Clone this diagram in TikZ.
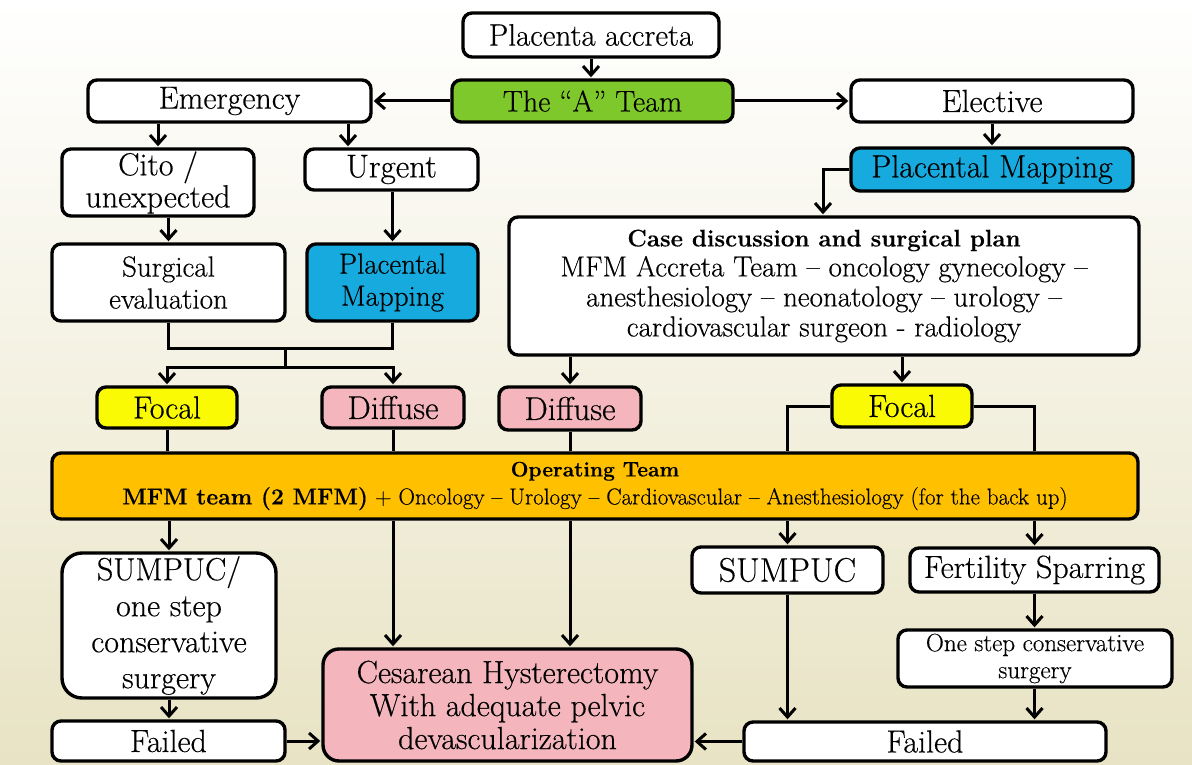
\documentclass[tikz,border=0pt]{standalone}
\usepackage{fontspec}
\setmainfont{Latin Modern Roman}[FakeBold=0.4]
\usetikzlibrary{arrows.meta}
\definecolor{agreen}{RGB}{126,200,44}
\definecolor{pblue}{RGB}{22,170,222}
\definecolor{fyellow}{RGB}{250,250,5}
\definecolor{dpink}{RGB}{244,182,188}
\definecolor{oorange}{RGB}{255,192,0}
\definecolor{bgbot}{RGB}{232,227,196}
\definecolor{bgmid}{RGB}{246,244,234}
\newcommand{\fsz}[2]{\fontsize{#1}{#2}\selectfont}
\begin{document}
\begin{tikzpicture}[x=1pt,y=-1pt,
  box/.style={draw=black, line width=3.4pt, rounded corners=9pt, fill=white, align=center, inner sep=0pt, font=\fsz{32}{34}},
  arr/.style={line width=3pt, -{Straight Barb[length=9pt,width=16pt]}, shorten >=1pt},
  ln/.style={line width=3pt},
]
\shade[top color=white, middle color=bgmid, bottom color=bgbot] (0,0) rectangle (1192,765);
\useasboundingbox (0,0) rectangle (1192,765);

\node[box, minimum width=256pt, minimum height=44pt, font=\fsz{31}{34}] (acc) at (591,35) {Placenta accreta};
\node[box, fill=agreen, minimum width=281pt, minimum height=42pt, font=\fsz{30}{34}] (ateam) at (592.5,101) {The “A” Team};
\node[box, minimum width=283pt, minimum height=42pt] (emer) at (229.5,101) {Emergency};
\node[box, minimum width=282pt, minimum height=42pt] (elec) at (992,101) {Elective};
\node[box, minimum width=192pt, minimum height=67pt, font=\fsz{32}{32}] (cito) at (158,182.5) {Cito /\\unexpected};
\node[box, minimum width=173pt, minimum height=41pt, font=\fsz{33}{34}] (urg) at (391.5,169.5) {Urgent};
\node[box, fill=pblue, minimum width=282pt, minimum height=43pt] (pmr) at (992,169.5) {Placental Mapping};
\node[box, minimum width=630pt, minimum height=138pt, font=\fsz{29}{30}] (case) at (824,286)
  {{\bfseries\fsz{24}{30}Case discussion and surgical plan}\\MFM Accreta Team – oncology gynecology –\\anesthesiology – neonatology – urology –\\cardiovascular surgeon - radiology};
\node[box, minimum width=233pt, minimum height=77pt, font=\fsz{29}{32}] (se) at (168.5,282.5) {Surgical\\evaluation};
\node[box, fill=pblue, minimum width=171pt, minimum height=77pt, font=\fsz{29}{32}] (pml) at (392.5,282.5) {Placental\\Mapping};
\node[box, fill=fyellow, minimum width=140pt, minimum height=41pt] (focl) at (167,407.5) {Focal};
\node[box, fill=dpink, minimum width=142pt, minimum height=41pt, font=\fsz{33}{34}] (difl) at (393,407.5) {Diffuse};
\node[box, fill=dpink, minimum width=142pt, minimum height=43pt, font=\fsz{33}{34}] (difm) at (570,408.5) {Diffuse};
\node[box, fill=fyellow, minimum width=140pt, minimum height=42pt] (focr) at (902,406) {Focal};
\node[box, fill=oorange, minimum width=1086pt, minimum height=66pt, font=\fsz{23}{28}] (op) at (595,486)
  {{\bfseries\fsz{21}{28}Operating Team}\\{\bfseries MFM team (2 MFM)} + Oncology – Urology – Cardiovascular – Anesthesiology (for the back up)};
\node[box, rounded corners=20pt, minimum width=214pt, minimum height=145pt, font=\fsz{32}{36}] (sump1) at (169,625.5) {SUMPUC/\\one step\\conservative\\surgery};
\node[box, minimum width=233pt, minimum height=40pt] (fail1) at (168.5,741) {Failed};
\node[box, fill=dpink, rounded corners=16pt, minimum width=369pt, minimum height=112pt, font=\fsz{32}{33}] (ces) at (507.5,705) {Cesarean Hysterectomy\\With adequate pelvic\\devascularization};
\node[box, minimum width=191pt, minimum height=46pt, font=\fsz{34}{36}] (sump2) at (787.5,570) {SUMPUC};
\node[box, minimum width=249pt, minimum height=44pt] (fert) at (1034.5,570) {Fertility Sparring};
\node[box, minimum width=274pt, minimum height=57pt, font=\fsz{25}{27}] (one) at (1035,658.5) {One step conservative\\surgery};
\node[box, minimum width=362pt, minimum height=39pt] (fail2) at (925,741.5) {Failed};

\coordinate (j1) at (285,348);
\coordinate (j2) at (285,367);

\draw[arr] (acc.south) -- (acc.south |- ateam.north);
\draw[arr] (ateam.west) -- (emer.east);
\draw[arr] (ateam.east) -- (elec.west);
\draw[arr] (emer.south -| cito.north) -- (cito.north);
\draw[arr] ([xshift=-43.5pt]urg.north |- emer.south) -- ([xshift=-43.5pt]urg.north);
\draw[arr] (elec.south -| pmr.north) -- (pmr.north);
\draw[arr] (pmr.west) -| ([xshift=-1pt]case.north);
\draw[arr] (cito.south -| se.north) -- (se.north);
\draw[arr] (urg.south -| pml.north) -- (pml.north);
\draw[ln] (se.south) |- (j1) -| (pml.south);
\draw[ln] (j1) -- (j2);
\draw[arr] (j2) -| (focl.north);
\draw[arr] (j2) -| (difl.north);
\draw[arr] (case.south -| difm.north) -- (difm.north);
\draw[arr] (case.south -| focr.north) -- (focr.north);
\draw[ln] (focl.south) -- (focl.south |- op.north);
\draw[ln] (difl.south) -- (difl.south |- op.north);
\draw[ln] (difm.south) -- (difm.south |- op.north);
\draw[ln] (focr.west) -| (sump2.north |- op.north);
\draw[ln] (focr.east) -| (fert.north |- op.north);
\draw[arr] (op.south -| sump1.north) -- (sump1.north);
\draw[arr] (op.south -| difl.south) -- (ces.north -| difl.south);
\draw[arr] (op.south -| difm.south) -- (ces.north -| difm.south);
\draw[arr] (op.south -| sump2.north) -- (sump2.north);
\draw[arr] (op.south -| fert.north) -- (fert.north);
\draw[arr] (sump2.south) -- (sump2.south |- fail2.north);
\draw[arr] (fert.south) -- (fert.south |- one.north);
\draw[arr] (one.south -| fert.south) -- (fail2.north -| fert.south);
\draw[arr] (sump1.south) -- (sump1.south |- fail1.north);
\draw[arr] (fail1.east) -- (fail1.east -| ces.west);
\draw[arr] (fail2.west) -- (fail2.west -| ces.east);
\end{tikzpicture}
\end{document}
